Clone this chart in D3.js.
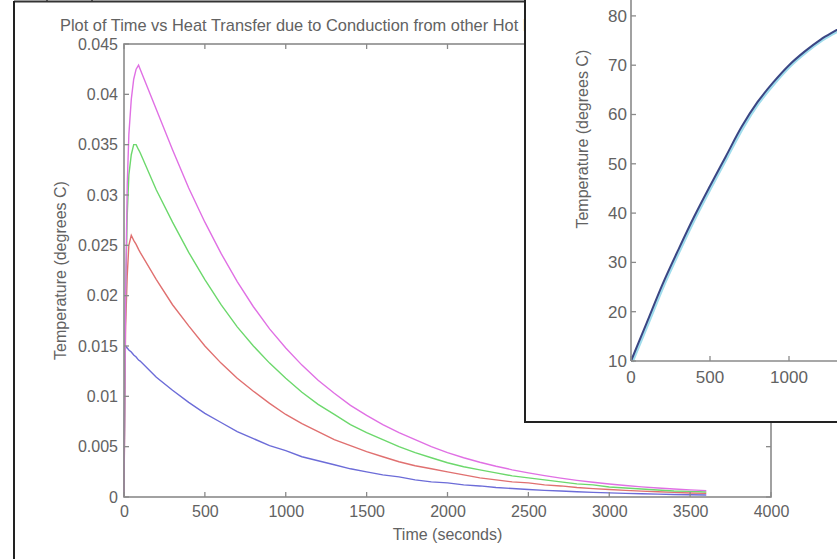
<!DOCTYPE html>
<html><head><meta charset="utf-8">
<script src="https://cdn.jsdelivr.net/npm/d3@7"></script>
<style>
html,body{margin:0;padding:0;background:#fff;}
svg{display:block;}
text{font-family:"Liberation Sans",Arial,sans-serif;fill:#626262;}
</style></head><body>
<svg id="c" width="837" height="559"></svg>
<script>
// ---------- main chart data ----------
const times = [0,5,10,20,30,45,60,75,90,100,200,300,400,500,600,700,800,900,1000,1100,1200,1300,1400,1500,1600,1700,1800,1900,2000,2100,2200,2300,2400,2500,2600,2700,2800,2900,3000,3100,3200,3300,3400,3500,3600];
const blueVals = [0,0.0140,0.0150,0.0148,0.0146,0.0144,0.0141,0.0139,0.0136,0.0135,0.0119,0.0106,0.0094,0.0083,0.0074,0.0065,0.0058,0.0051,0.0046,0.0040,0.0036,0.0032,0.0028,0.0025,0.0022,0.0020,0.0017,0.0015,0.0014,0.0012,0.0011,0.00095,0.00084,0.00075,0.00066,0.00059,0.00052,0.00046,0.00041,0.00036,0.00032,0.00029,0.00025,0.00022,0.0002];
const redVals = [0,0.010,0.017,0.022,0.025,0.026,0.0255,0.0251,0.0246,0.0243,0.0216,0.0191,0.0170,0.0150,0.0133,0.0118,0.0105,0.0093,0.0082,0.0073,0.0065,0.0057,0.0051,0.0045,0.0040,0.0035,0.0031,0.0028,0.0025,0.0022,0.0019,0.0017,0.0015,0.0014,0.0012,0.0011,0.00094,0.00083,0.00074,0.00066,0.00058,0.00052,0.00046,0.00040,0.00036];
const greenVals = [0,0.012,0.020,0.028,0.032,0.034,0.0350,0.0350,0.0345,0.0342,0.0305,0.0273,0.0243,0.0216,0.0191,0.0169,0.0150,0.0133,0.0118,0.0104,0.0092,0.0082,0.0072,0.0064,0.0057,0.0050,0.0044,0.0039,0.0034,0.0030,0.0027,0.0024,0.0021,0.0019,0.0017,0.0015,0.0013,0.0012,0.0010,0.0009,0.0008,0.0007,0.0006,0.00056,0.0005];
const magentaVals = [0,0.010,0.020,0.031,0.036,0.0395,0.0415,0.0425,0.0429,0.0425,0.0385,0.0345,0.0307,0.0273,0.0242,0.0214,0.0189,0.0167,0.0148,0.0131,0.0116,0.0103,0.0091,0.0081,0.0072,0.0064,0.0057,0.0050,0.0044,0.0039,0.00345,0.00305,0.0027,0.0024,0.00212,0.00187,0.00165,0.00146,0.00129,0.00114,0.00101,0.00090,0.00080,0.00071,0.00063];
const seriesNames = ["blue","red","green","magenta"];
const seriesColors = ["#6c6cd8","#e07070","#6cd86c","#e070e4"];
const xTicks = [0,500,1000,1500,2000,2500,3000,3500,4000];
const yTicks = [0,0.005,0.01,0.015,0.02,0.025,0.03,0.035,0.04,0.045];
const yTickLabels = ["0","0.005","0.01","0.015","0.02","0.025","0.03","0.035","0.04","0.045"];
const titleText = "Plot of Time vs Heat Transfer due to Conduction from other Hot Rods";
const xLabel = "Time (seconds)";
const yLabel = "Temperature (degrees C)";

// ---------- inset data ----------
const insetTimes = [0,100,200,300,400,500,600,700,800,900,1000,1100,1200,1300,1400,1500];
const insetTemps = [10,17.8,25.6,32.6,39.3,45.5,51.5,57.5,62.5,66.5,70,72.8,75.2,77.1,79,80.7];
const insetXTicks = [0,500,1000];
const insetYTicks = [10,20,30,40,50,60,70,80];
const insetYLabel = "Temperature (degrees C)";

const svg = d3.select("#c");
const axisColor = "#8a8a8a";

// outer frame of the main figure window
svg.append("line").attr("x1",14).attr("x2",837).attr("y1",1.5).attr("y2",1.5).attr("stroke","#333").attr("stroke-width",2);
svg.append("line").attr("x1",14).attr("x2",14).attr("y1",1).attr("y2",559).attr("stroke","#222").attr("stroke-width",2);
[47,92].forEach(x=>svg.append("line").attr("x1",x).attr("x2",x).attr("y1",0).attr("y2",2).attr("stroke","#333").attr("stroke-width",1.5));

// ---------- main chart ----------
const x = d3.scaleLinear().domain([0,4000]).range([124,771]);
const y = d3.scaleLinear().domain([0,0.045]).range([497,44]);

const g = svg.append("g");
const series = [blueVals,redVals,greenVals,magentaVals];
const line = d3.line().x((d,i)=>x(times[i])).y(d=>y(d));
series.forEach((vals,k)=>{
  g.append("path").datum(vals).attr("d",line).attr("fill","none")
   .attr("stroke",seriesColors[k]).attr("stroke-width",1.4).attr("class","s-"+seriesNames[k]);
});

// box
g.append("rect").attr("x",x(0)).attr("y",y(0.045)).attr("width",x(4000)-x(0)).attr("height",y(0)-y(0.045))
 .attr("fill","none").attr("stroke",axisColor).attr("stroke-width",1.6);

const bottom = d3.axisBottom(x).tickValues(xTicks).tickSize(0).tickPadding(9).tickFormat(d3.format("d"));
const gb = g.append("g").attr("transform",`translate(0,${y(0)})`).call(bottom);
gb.select(".domain").remove();
gb.selectAll("text").attr("font-size",16).attr("fill","#626262").attr("font-family","Liberation Sans, Arial, sans-serif");

const left = d3.axisLeft(y).tickValues(yTicks).tickSize(0).tickPadding(6).tickFormat((d,i)=>yTickLabels[i]);
const gl = g.append("g").attr("transform",`translate(${x(0)},0)`).call(left);
gl.select(".domain").remove();
gl.selectAll("text").attr("font-size",16).attr("fill","#626262").attr("font-family","Liberation Sans, Arial, sans-serif");

// inward ticks on four sides
const tl = 5;
xTicks.forEach(t=>{
  g.append("line").attr("x1",x(t)).attr("x2",x(t)).attr("y1",y(0)).attr("y2",y(0)-tl).attr("stroke",axisColor).attr("stroke-width",1.3);
  g.append("line").attr("x1",x(t)).attr("x2",x(t)).attr("y1",y(0.045)).attr("y2",y(0.045)+tl).attr("stroke",axisColor).attr("stroke-width",1.3);
});
yTicks.forEach(v=>{
  g.append("line").attr("x1",x(0)).attr("x2",x(0)+tl).attr("y1",y(v)).attr("y2",y(v)).attr("stroke",axisColor).attr("stroke-width",1.3);
  g.append("line").attr("x1",x(4000)).attr("x2",x(4000)-tl).attr("y1",y(v)).attr("y2",y(v)).attr("stroke",axisColor).attr("stroke-width",1.3);
});

svg.append("text").attr("x",60).attr("y",31).attr("font-size",16.4).text(titleText);
svg.append("text").attr("x",(x(0)+x(4000))/2).attr("y",540).attr("text-anchor","middle").attr("font-size",16).text(xLabel);
svg.append("text").attr("transform",`translate(66,${(y(0)+y(0.045))/2}) rotate(-90)`).attr("text-anchor","middle").attr("font-size",16).text(yLabel);

// ---------- inset window ----------
const ins = svg.append("g");
ins.append("rect").attr("x",525).attr("y",0).attr("width",312).attr("height",422).attr("fill","#fff");
const xi = d3.scaleLinear().domain([0,4000]).range([631,631+8*79]);
const yi = d3.scaleLinear().domain([10,100]).range([361,361-9*49.3]);
const clip = svg.append("clipPath").attr("id","insclip");
clip.append("rect").attr("x",526).attr("y",0).attr("width",311).attr("height",421);
const ig = ins.append("g").attr("clip-path","url(#insclip)");

const iline = d3.line().x((d,i)=>xi(insetTimes[i])).y(d=>yi(d)).curve(d3.curveMonotoneX);
ig.append("path").datum(insetTemps).attr("d",iline).attr("fill","none").attr("stroke","#9fdcec").attr("stroke-width",3).attr("transform","translate(1.3,0.8)");
ig.append("path").datum(insetTemps).attr("d",iline).attr("fill","none").attr("stroke","#3b4684").attr("stroke-width",2);

ig.append("line").attr("x1",xi(0)).attr("x2",xi(0)).attr("y1",yi(100)).attr("y2",yi(10)).attr("stroke",axisColor).attr("stroke-width",1.6);
ig.append("line").attr("x1",xi(0)).attr("x2",xi(4000)).attr("y1",yi(10)).attr("y2",yi(10)).attr("stroke",axisColor).attr("stroke-width",1.6);
insetYTicks.forEach(v=>{
  ig.append("line").attr("x1",xi(0)).attr("x2",xi(0)+5).attr("y1",yi(v)).attr("y2",yi(v)).attr("stroke",axisColor).attr("stroke-width",1.3);
  ig.append("text").attr("x",xi(0)-4).attr("y",yi(v)).attr("dy","0.35em").attr("text-anchor","end").attr("font-size",17).text(v);
});
insetXTicks.forEach(t=>{
  ig.append("line").attr("x1",xi(t)).attr("x2",xi(t)).attr("y1",yi(10)).attr("y2",yi(10)-5).attr("stroke",axisColor).attr("stroke-width",1.3);
  ig.append("text").attr("x",xi(t)).attr("y",yi(10)+22).attr("text-anchor","middle").attr("font-size",17).text(t);
});
ig.append("text").attr("transform",`translate(588,${(yi(10)+yi(100))/2}) rotate(-90)`).attr("text-anchor","middle").attr("font-size",16).text(insetYLabel);

ins.append("line").attr("x1",525).attr("x2",525).attr("y1",0).attr("y2",423).attr("stroke","#222").attr("stroke-width",2);
ins.append("line").attr("x1",524).attr("x2",837).attr("y1",422).attr("y2",422).attr("stroke","#222").attr("stroke-width",2);
</script>
</body></html>
